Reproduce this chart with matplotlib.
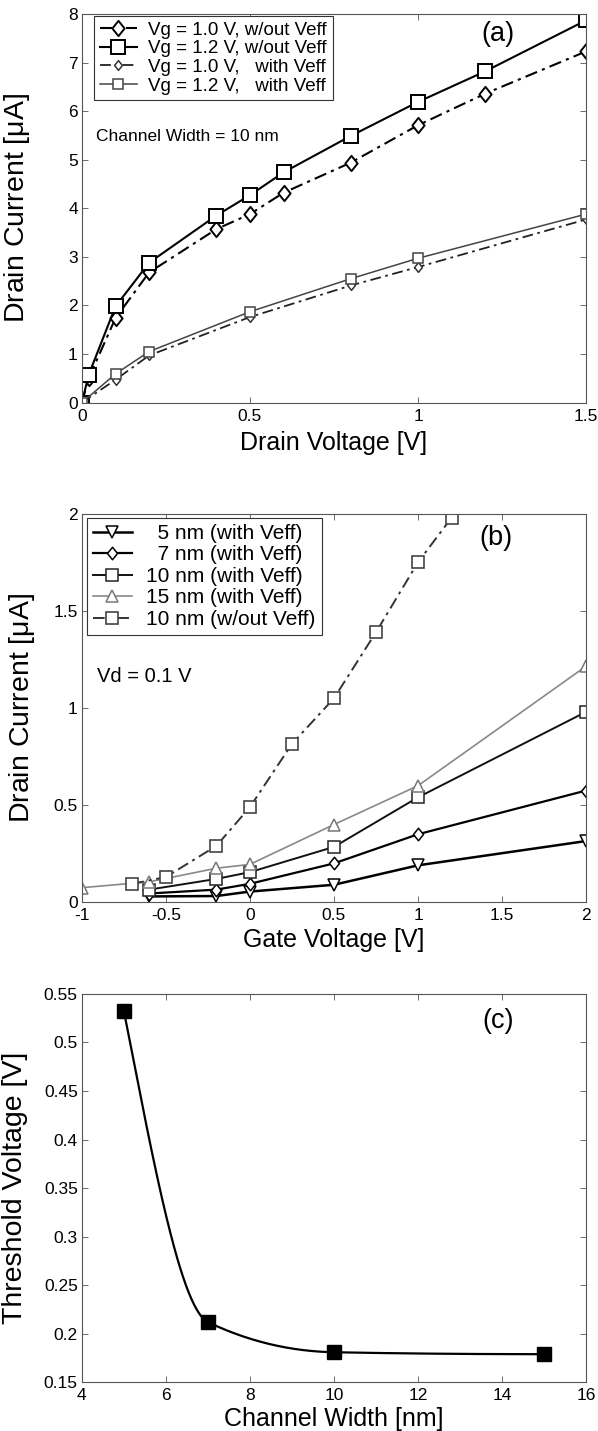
import numpy as np
import matplotlib
matplotlib.use('Agg')
import matplotlib.pyplot as plt
from matplotlib.path import Path

plt.rcParams['font.family'] = ['Liberation Sans', 'DejaVu Sans']
plt.rcParams['mathtext.fontset'] = 'custom'
plt.rcParams['mathtext.rm'] = 'Liberation Sans'

# ---- panel (a): drain current vs drain voltage, W = 10 nm
vd_hi = [0, 0.02, 0.1, 0.2, 0.4, 0.5, 0.6, 0.8, 1.0, 1.2, 1.5]
id_12_wo = [0, 0.57, 1.98, 2.88, 3.85, 4.27, 4.74, 5.49, 6.19, 6.82, 7.87]
id_10_wo = [0, 0.50, 1.74, 2.68, 3.57, 3.88, 4.32, 4.94, 5.71, 6.36, 7.23]
vd_lo = [0, 0.1, 0.2, 0.5, 0.8, 1.0, 1.5]
id_12_w = [0, 0.59, 1.05, 1.87, 2.55, 2.97, 3.88]
id_10_w = [0, 0.47, 0.97, 1.76, 2.41, 2.79, 3.77]
labels_a = ['Vg = 1.0 V, w/out Veff', 'Vg = 1.2 V, w/out Veff',
            'Vg = 1.0 V,   with Veff', 'Vg = 1.2 V,   with Veff']

# ---- panel (b): drain current vs gate voltage, Vd = 0.1 V
vg_5 = [-0.6, -0.2, 0, 0.5, 1.0, 2.0]
id_5 = [0.03, 0.032, 0.055, 0.09, 0.19, 0.315]
vg_7 = [-0.6, -0.2, 0, 0.5, 1.0, 2.0]
id_7 = [0.045, 0.065, 0.095, 0.20, 0.35, 0.575]
vg_10 = [-0.6, -0.2, 0, 0.5, 1.0, 2.0]
id_10 = [0.065, 0.12, 0.155, 0.285, 0.54, 0.98]
vg_15 = [-1.0, -0.6, -0.2, 0, 0.5, 1.0, 2.0]
id_15 = [0.075, 0.105, 0.175, 0.195, 0.40, 0.60, 1.215]
vg_10wo = [-0.7, -0.5, -0.2, 0, 0.25, 0.5, 0.75, 1.0, 1.2]
id_10wo = [0.095, 0.13, 0.29, 0.49, 0.815, 1.05, 1.39, 1.75, 1.98]
labels_b = ['  5 nm (with Veff)', '  7 nm (with Veff)', '10 nm (with Veff)',
            '15 nm (with Veff)', '10 nm (w/out Veff)']

# ---- panel (c): threshold voltage vs channel width
width_nm = [5, 7, 10, 15]
vth = [0.532, 0.212, 0.181, 0.179]


def pchip_line(x, y, n=300):
    # smooth shape-preserving line (like matlab pchip) through the data points
    x = np.asarray(x, float)
    y = np.asarray(y, float)
    h = np.diff(x)
    d = np.diff(y) / h
    m = np.zeros_like(y)
    for k in range(1, len(x) - 1):
        if d[k - 1] * d[k] > 0:
            w1 = 2 * h[k] + h[k - 1]
            w2 = h[k] + 2 * h[k - 1]
            m[k] = (w1 + w2) / (w1 / d[k - 1] + w2 / d[k])
    m[0] = ((2 * h[0] + h[1]) * d[0] - h[0] * d[1]) / (h[0] + h[1])
    if m[0] * d[0] <= 0:
        m[0] = 0
    m[-1] = ((2 * h[-1] + h[-2]) * d[-1] - h[-1] * d[-2]) / (h[-1] + h[-2])
    if m[-1] * d[-1] <= 0:
        m[-1] = 0
    xs = np.linspace(x[0], x[-1], n)
    idx = np.clip(np.searchsorted(x, xs) - 1, 0, len(x) - 2)
    t = (xs - x[idx]) / h[idx]
    h00 = 2 * t**3 - 3 * t**2 + 1
    h10 = t**3 - 2 * t**2 + t
    h01 = -2 * t**3 + 3 * t**2
    h11 = t**3 - t**2
    ys = h00 * y[idx] + h10 * h[idx] * m[idx] + h01 * y[idx + 1] + h11 * h[idx] * m[idx + 1]
    return xs, ys


def style_axes(ax, xpad=3):
    for s in ax.spines.values():
        s.set_linewidth(0.8)
        s.set_color('#555555')
    ax.tick_params(direction='in', top=True, right=True, length=4,
                   width=0.6, color='#555555', labelsize=12.5)
    ax.tick_params(axis='x', pad=xpad)
    ax.tick_params(axis='y', pad=3)


# matlab-like diamond, a bit narrower than tall
diamond = Path([(0, 1), (0.8, 0), (0, -1), (-0.8, 0), (0, 1)],
               [Path.MOVETO, Path.LINETO, Path.LINETO, Path.LINETO, Path.CLOSEPOLY])
dashdot = (0, (6, 2.5, 1.5, 2.5))

fig = plt.figure(figsize=(5.98, 14.31), dpi=100)
L, R = 0.137, 0.980
H = 0.2715
ax1 = fig.add_axes([L, 0.7187, R - L, H])
ax2 = fig.add_axes([L, 0.3695, R - L, H])
ax3 = fig.add_axes([L, 0.0340, R - L, H])

# (a)
ax1.plot(vd_hi, id_10_wo, color='black', lw=1.5, ls=dashdot, marker=diamond,
         ms=11, mfc='white', mec='black', mew=1.4, label=labels_a[0])
ax1.plot(vd_hi, id_12_wo, color='black', lw=1.5, marker='s',
         ms=10, mfc='white', mec='black', mew=1.4, label=labels_a[1])
ax1.plot(vd_lo, id_10_w, color='#222222', lw=1.3, ls=dashdot, marker=diamond,
         ms=7, mfc='white', mec='#333333', mew=1.1, label=labels_a[2])
ax1.plot(vd_lo, id_12_w, color='#444444', lw=1.1, marker='s',
         ms=7, mfc='white', mec='#444444', mew=1.1, label=labels_a[3])
ax1.set_xlim(0, 1.5)
ax1.set_ylim(0, 8)
ax1.set_xticks([0, 0.5, 1, 1.5])
ax1.set_xticklabels(['0', '0.5', '1', '1.5'])
ax1.set_yticks(range(0, 9))
ax1.set_xlabel('Drain Voltage [V]', fontsize=18, labelpad=5)
ax1.set_ylabel(r'Drain Current [$\mathrm{\mu}$A]', fontsize=20.5)
ax1.yaxis.set_label_coords(-0.10, 0.5)
ax1.text(0.793, 0.949, '(a)', transform=ax1.transAxes, fontsize=19.5, va='center')
ax1.text(0.027, 0.686, 'Channel Width = 10 nm', transform=ax1.transAxes,
         fontsize=12.5, va='center')
leg = ax1.legend(loc='upper left', bbox_to_anchor=(0.024, 0.995), fontsize=13.5,
                 numpoints=1, fancybox=False, edgecolor='#333333', framealpha=1,
                 borderpad=0.3, labelspacing=0.08, handlelength=2.0,
                 handletextpad=0.6, borderaxespad=0)
leg.get_frame().set_linewidth(0.8)
style_axes(ax1, xpad=4.5)

# (b)
ax2.plot(vg_5, id_5, color='black', lw=1.8, marker='v', ms=8,
         mfc='white', mec='black', mew=1.1, label=labels_b[0])
ax2.plot(vg_7, id_7, color='black', lw=1.6, marker=diamond, ms=9,
         mfc='white', mec='black', mew=1.1, label=labels_b[1])
ax2.plot(vg_10, id_10, color='#111111', lw=1.4, marker='s', ms=8,
         mfc='white', mec='#222222', mew=1.1, label=labels_b[2])
ax2.plot(vg_15, id_15, color='#888888', lw=1.2, marker='^', ms=8,
         mfc='white', mec='#777777', mew=1.1, label=labels_b[3])
ax2.plot(vg_10wo, id_10wo, color='#333333', lw=1.4, ls=dashdot, marker='s', ms=8,
         mfc='white', mec='#444444', mew=1.2, label=labels_b[4])
ax2.set_xlim(-1, 2)
ax2.set_ylim(0, 2)
ax2.set_xticks([-1, -0.5, 0, 0.5, 1, 1.5, 2])
ax2.set_xticklabels(['-1', '-0.5', '0', '0.5', '1', '1.5', '2'])
ax2.set_yticks([0, 0.5, 1, 1.5, 2])
ax2.set_yticklabels(['0', '0.5', '1', '1.5', '2'])
ax2.set_xlabel('Gate Voltage [V]', fontsize=18, labelpad=3)
ax2.set_ylabel(r'Drain Current [$\mathrm{\mu}$A]', fontsize=20.5)
ax2.yaxis.set_label_coords(-0.09, 0.5)
ax2.text(0.789, 0.937, '(b)', transform=ax2.transAxes, fontsize=19.5, va='center')
ax2.text(0.029, 0.58, 'Vd = 0.1 V', transform=ax2.transAxes, fontsize=14.5, va='center')
leg = ax2.legend(loc='upper left', bbox_to_anchor=(0.01, 0.99), fontsize=15,
                 numpoints=1, fancybox=False, edgecolor='#333333', framealpha=1,
                 borderpad=0.3, labelspacing=0.12, handlelength=1.85,
                 handletextpad=0.7, borderaxespad=0)
leg.get_frame().set_linewidth(0.8)
style_axes(ax2, xpad=4.5)

# (c)
xs, ys = pchip_line(width_nm, vth)
ax3.plot(xs, ys, color='black', lw=1.6)
ax3.plot(width_nm, vth, ls='none', marker='s', ms=9.5, color='black')
ax3.set_xlim(4, 16)
ax3.set_ylim(0.15, 0.55)
ax3.set_xticks(range(4, 17, 2))
ax3.set_yticks([0.15, 0.2, 0.25, 0.3, 0.35, 0.4, 0.45, 0.5, 0.55])
ax3.set_yticklabels(['0.15', '0.2', '0.25', '0.3', '0.35', '0.4', '0.45', '0.5', '0.55'])
ax3.set_xlabel('Channel Width [nm]', fontsize=18, labelpad=3)
ax3.set_ylabel('Threshold Voltage [V]', fontsize=20.5)
ax3.yaxis.set_label_coords(-0.107, 0.5)
ax3.text(0.795, 0.93, '(c)', transform=ax3.transAxes, fontsize=19.5, va='center')
style_axes(ax3, xpad=4)

fig.savefig('out.png', dpi=100)
